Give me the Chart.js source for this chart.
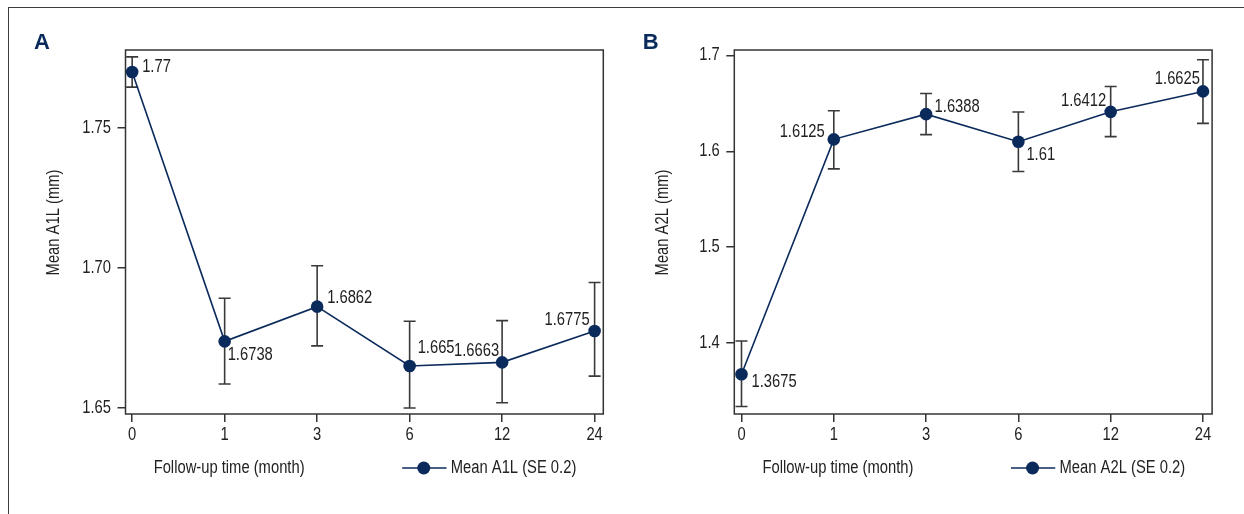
<!DOCTYPE html>
<html>
<head>
<meta charset="utf-8">
<script src="https://cdn.jsdelivr.net/npm/chart.js@4.4.0/dist/chart.umd.min.js"></script>
<style>
  html, body { margin: 0; padding: 0; background: #fff; }
  #frame { position: absolute; left: 8px; top: 7px; width: 1240px; height: 510px;
           border-top: 1.5px solid #3c3c3c; border-left: 1.5px solid #3c3c3c; }
  .panel { position: absolute; top: 0; height: 514px; }
  #wrapA { left: 0; width: 620px; }
  #wrapB { left: 620px; width: 624px; }
</style>
</head>
<body>
<div id="frame"></div>
<div class="panel" id="wrapA"><canvas id="chartA" width="620" height="514"></canvas></div>
<div class="panel" id="wrapB"><canvas id="chartB" width="624" height="514"></canvas></div>
<script>
// follow-up months (categories)
const months = ['0', '1', '3', '6', '12', '24'];

// panel A: mean A1L and SE bounds
const meanA1L  = [1.77, 1.6738, 1.6862, 1.665, 1.6663, 1.6775];
const lowerA1L = [1.7646, 1.6586, 1.6722, 1.6500, 1.6519, 1.6614];
const upperA1L = [1.7754, 1.6892, 1.7008, 1.6810, 1.6812, 1.6948];
const ticksA1L = [1.65, 1.70, 1.75];
const tickLabelsA1L = ['1.65', '1.70', '1.75'];

// panel B: mean A2L and SE bounds
const meanA2L  = [1.3675, 1.6125, 1.6388, 1.61, 1.6412, 1.6625];
const lowerA2L = [1.3338, 1.5817, 1.6174, 1.5789, 1.6153, 1.6292];
const upperA2L = [1.4021, 1.6424, 1.6604, 1.6410, 1.6677, 1.6955];
const ticksA2L = [1.4, 1.5, 1.6, 1.7];
const tickLabelsA2L = ['1.4', '1.5', '1.6', '1.7'];

const FONT = "18px 'Liberation Sans', Arial, sans-serif";
const SQUEEZE = 0.82;   // narrow look of the original typeface
const NAVY = '#0b2a5c';
const INK = '#222';
const LINE = '#333';

// where each value label sits relative to its point
const labelPosA = [
  { dx: 10, dy: -5, align: 'left' }, { dx: 3, dy: 14, align: 'left' },
  { dx: 10, dy: -9, align: 'left' }, { dx: 8, dy: -18, align: 'left' },
  { dx: -3, dy: -11, align: 'right' }, { dx: -5, dy: -11, align: 'right' }
];
const labelPosB = [
  { dx: 10, dy: 8, align: 'left' }, { dx: -9, dy: -7, align: 'right' },
  { dx: 8.5, dy: -7, align: 'left' }, { dx: 8, dy: 13, align: 'left' },
  { dx: -4.5, dy: -11, align: 'right' }, { dx: -3, dy: -12, align: 'right' }
];

// text drawn slightly condensed
function narrowText(ctx, text, x, y, align, rotate) {
  ctx.save();
  ctx.translate(x, y);
  if (rotate) ctx.rotate(-Math.PI / 2);
  ctx.scale(SQUEEZE, 1);
  ctx.font = FONT;
  ctx.fillStyle = INK;
  ctx.textAlign = align;
  ctx.textBaseline = 'middle';
  ctx.fillText(text, 0, 0);
  ctx.restore();
}

function panelPlugin(o) {
  return {
    id: 'panel' + o.letter,
    beforeDatasetsDraw(chart) {
      const { ctx, scales: { x, y } } = chart;
      ctx.save();
      ctx.strokeStyle = '#3a3a3a';
      ctx.lineWidth = 1.6;
      o.means.forEach((m, i) => {
        const px = x.getPixelForValue(i);
        const top = y.getPixelForValue(o.upper[i]);
        const bot = y.getPixelForValue(o.lower[i]);
        ctx.beginPath();
        ctx.moveTo(px, top); ctx.lineTo(px, bot);
        ctx.moveTo(px - 6, top); ctx.lineTo(px + 6, top);
        ctx.moveTo(px - 6, bot); ctx.lineTo(px + 6, bot);
        ctx.stroke();
      });
      ctx.restore();
    },
    afterDatasetsDraw(chart) {
      const { ctx, scales: { x, y } } = chart;
      o.means.forEach((m, i) => {
        const p = o.labelPos[i];
        narrowText(ctx, String(m), x.getPixelForValue(i) + p.dx, y.getPixelForValue(m) + p.dy, p.align);
      });
    },
    afterDraw(chart) {
      const { ctx, chartArea: a, scales: { x, y } } = chart;
      ctx.save();
      // plot box
      ctx.strokeStyle = LINE;
      ctx.lineWidth = 1.5;
      ctx.strokeRect(a.left, a.top, a.right - a.left, a.bottom - a.top);

      // panel letter
      ctx.fillStyle = NAVY;
      ctx.font = "bold 22px 'Liberation Sans', sans-serif";
      ctx.textAlign = 'left';
      ctx.textBaseline = 'alphabetic';
      ctx.fillText(o.letter, a.left - 91.5, 49);
      ctx.restore();

      // tick labels from the scales' own ticks
      y.ticks.forEach((t, i) => narrowText(ctx, o.tickLabels[i], a.left - 14.5, y.getPixelForValue(t.value), 'right'));
      x.ticks.forEach(t => narrowText(ctx, months[t.value], x.getPixelForValue(t.value), 435, 'center'));

      // axis titles
      narrowText(ctx, 'Follow-up time (month)', a.left + 103.6, 468, 'center');
      narrowText(ctx, o.yTitle, a.left - 71, 222.5, 'center', true);

      // legend
      ctx.save();
      ctx.font = FONT;
      const w = ctx.measureText(o.legend).width * SQUEEZE;
      const textLeft = a.right - 27 - w;
      ctx.strokeStyle = NAVY;
      ctx.lineWidth = 1.6;
      ctx.beginPath();
      ctx.moveTo(textLeft - 48.6, 468);
      ctx.lineTo(textLeft - 4.3, 468);
      ctx.stroke();
      ctx.fillStyle = NAVY;
      ctx.beginPath();
      ctx.arc(textLeft - 27, 468, 6.5, 0, Math.PI * 2);
      ctx.fill();
      ctx.restore();
      narrowText(ctx, o.legend, textLeft, 468, 'left');
    }
  };
}

function makeChart(id, o) {
  const grid = { drawOnChartArea: false, drawTicks: true, tickLength: 8, color: LINE, lineWidth: 1.5 };
  new Chart(document.getElementById(id), {
    type: 'line',
    data: {
      datasets: [{
        label: o.legend,
        data: o.means.map((v, i) => ({ x: i, y: v })),
        borderColor: NAVY,
        borderWidth: 1.6,
        pointRadius: 6.3,
        pointHoverRadius: 6.3,
        pointBackgroundColor: NAVY,
        pointBorderWidth: 0,
        tension: 0,
        clip: false
      }]
    },
    options: {
      responsive: false,
      animation: false,
      events: [],
      layout: { padding: { left: o.padLeft, right: o.padRight, top: 50, bottom: 60 } },
      plugins: { legend: { display: false }, tooltip: { enabled: false } },
      scales: {
        x: {
          type: 'linear',
          min: o.xMin,
          max: o.xMax,
          afterBuildTicks: s => { s.ticks = months.map((m, i) => ({ value: i })); },
          afterFit: s => { s.height = 40; s.paddingLeft = 0; s.paddingRight = 0; },
          grid: grid,
          border: { display: false },
          ticks: { display: false }
        },
        y: {
          min: o.yMin,
          max: o.yMax,
          afterBuildTicks: s => { s.ticks = o.ticks.map(v => ({ value: v })); },
          afterFit: s => { s.width = 82; s.paddingTop = 0; s.paddingBottom = 0; },
          grid: grid,
          border: { display: false },
          ticks: { display: false }
        }
      }
    },
    plugins: [panelPlugin(o)]
  });
}

makeChart('chartA', {
  letter: 'A', yTitle: 'Mean A1L (mm)', legend: 'Mean A1L (SE 0.2)',
  means: meanA1L, lower: lowerA1L, upper: upperA1L,
  ticks: ticksA1L, tickLabels: tickLabelsA1L, labelPos: labelPosA,
  yMin: 1.64786, yMax: 1.77786, xMin: -0.072, xMax: 5.094,
  padLeft: 43.5, padRight: 16.7
});

makeChart('chartB', {
  letter: 'B', yTitle: 'Mean A2L (mm)', legend: 'Mean A2L (SE 0.2)',
  means: meanA2L, lower: lowerA2L, upper: upperA2L,
  ticks: ticksA2L, tickLabels: tickLabelsA2L, labelPos: labelPosB,
  yMin: 1.326, yMax: 1.7057, xMin: -0.078, xMax: 5.099,
  padLeft: 32.3, padRight: 31.9
});
</script>
</body>
</html>
